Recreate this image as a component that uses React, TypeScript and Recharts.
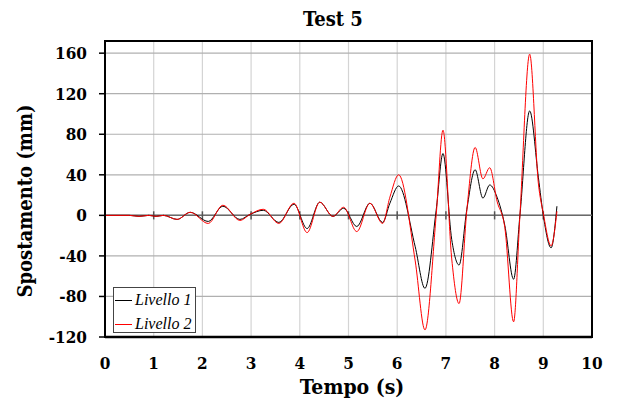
import {
  LineChart,
  Line,
  XAxis,
  YAxis,
  CartesianGrid,
  ReferenceLine,
  ReferenceArea,
} from "recharts";

const tempo = [
  0, 0.5, 0.7, 0.9, 1.05, 1.2, 1.48, 1.75, 2.12, 2.42, 2.77, 2.98, 3.25, 3.57,
  3.88, 4.15, 4.41, 4.68, 4.9, 5.17, 5.44, 5.7, 5.85, 6.03, 6.37, 6.57, 6.8,
  6.94, 7.12, 7.27, 7.43, 7.6, 7.76, 7.9, 8.05, 8.21, 8.39, 8.52, 8.72, 8.9,
  9.0, 9.16, 9.28,
];
const livello1 = [
  0, 0, -1, 0, -1, 0, -4, 3, -6, 9, -4, 1, 5, -7, 11, -13, 13, -1, 7, -11, 12,
  -7, 12, 29, -31, -72, 5, 61, -24, -49, 6, 45, 17, 30, 18, -10, -63, 0, 103,
  37, 0, -32, 9,
];
const livello2 = [
  0, 0, -1, 0, -1, 0, -4, 3, -8, 10, -5, 1, 6, -8, 12, -17, 13, -1, 8, -16, 12,
  -8, 18, 40, -45, -113, 0, 84, -43, -87, 5, 67, 36, 47, 14, -12, -105, 0, 159,
  31, 2, -30, 4,
];
const xTicks = [0, 1, 2, 3, 4, 5, 6, 7, 8, 9, 10];
const yTicks = [-120, -80, -40, 0, 40, 80, 120, 160];

const data = tempo.map((t, i) => ({ t, l1: livello1[i], l2: livello2[i] }));

const serif = "'DejaVu Serif Condensed', 'DejaVu Serif', serif";
const tickStyle = { fontFamily: serif, fontWeight: 700, fontSize: 17, fill: "#000" };

export default function App() {
  return (
    <div style={{ position: "relative", width: 615, height: 395 }}>
      <div
        style={{
          position: "absolute",
          left: 225,
          width: 200,
          top: -1,
          textAlign: "center",
          fontFamily: serif,
          fontWeight: 700,
          fontSize: 20,
        }}
      >
        Test 5
      </div>
      <LineChart
        width={615}
        height={395}
        data={data}
        margin={{ top: 33, right: 31, bottom: 36, left: 27 }}
      >
        <CartesianGrid horizontal={false} stroke="#d4d4d4" strokeWidth={1.2} />
        <CartesianGrid vertical={false} stroke="#b0b0b0" strokeWidth={1.2} />
        <XAxis
          dataKey="t"
          type="number"
          domain={[0, 10]}
          ticks={xTicks}
          height={30}
          tickLine={false}
          tickSize={0}
          tickMargin={20}
          axisLine={{ stroke: "#000", strokeWidth: 2.5 }}
          tick={tickStyle}
        />
        <YAxis
          type="number"
          domain={[-120, 172]}
          ticks={yTicks}
          width={70}
          tickSize={6}
          tickMargin={12}
          tickLine={{ stroke: "#000", strokeWidth: 1.5 }}
          axisLine={{ stroke: "#000", strokeWidth: 2 }}
          tick={tickStyle}
          allowDataOverflow
        />
        <ReferenceLine y={0} stroke="#6a6a6a" strokeWidth={1.5} />
        {xTicks.slice(1, 10).map((t) => (
          <ReferenceLine
            key={t}
            segment={[
              { x: t, y: -4 },
              { x: t, y: 4 },
            ]}
            stroke="#555"
            strokeWidth={1.5}
          />
        ))}
        <ReferenceArea
          x1={0}
          x2={10}
          y1={-120}
          y2={172}
          fill="none"
          fillOpacity={0}
          stroke="#000"
          strokeWidth={2}
        />
        <Line
          dataKey="l1"
          type="monotone"
          stroke="#000"
          strokeWidth={1}
          dot={false}
          isAnimationActive={false}
        />
        <Line
          dataKey="l2"
          type="monotone"
          stroke="#ff0000"
          strokeWidth={1}
          dot={false}
          isAnimationActive={false}
        />
      </LineChart>
      <div
        style={{
          position: "absolute",
          left: 17,
          top: 193,
          transform: "translate(-50%, -50%) rotate(-90deg)",
          whiteSpace: "nowrap",
          fontFamily: serif,
          fontWeight: 700,
          fontSize: 20,
        }}
      >
        Spostamento (mm)
      </div>
      <div
        style={{
          position: "absolute",
          left: 344,
          top: 378,
          transform: "translate(-50%, -50%)",
          whiteSpace: "nowrap",
          fontFamily: serif,
          fontWeight: 700,
          fontSize: 21,
        }}
      >
        Tempo (s)
      </div>
      <div
        style={{
          position: "absolute",
          left: 105,
          top: 279,
          width: 83,
          height: 46,
          border: "1px solid #444",
          background: "#fff",
          fontFamily: "'Liberation Serif', serif",
          fontStyle: "italic",
          fontSize: 16,
          boxSizing: "border-box",
        }}
      >
        {[
          { name: "Livello 1", color: "#000" },
          { name: "Livello 2", color: "#ff0000" },
        ].map((it, i) => (
          <div
            key={it.name}
            style={{
              position: "absolute",
              left: 1,
              top: 3 + i * 24,
              display: "flex",
              alignItems: "center",
              height: 18,
              whiteSpace: "nowrap",
            }}
          >
            <span
              style={{
                display: "inline-block",
                width: 17,
                height: 0,
                borderTop: `1px solid ${it.color}`,
                marginRight: 3,
              }}
            />
            {it.name}
          </div>
        ))}
      </div>
    </div>
  );
}
